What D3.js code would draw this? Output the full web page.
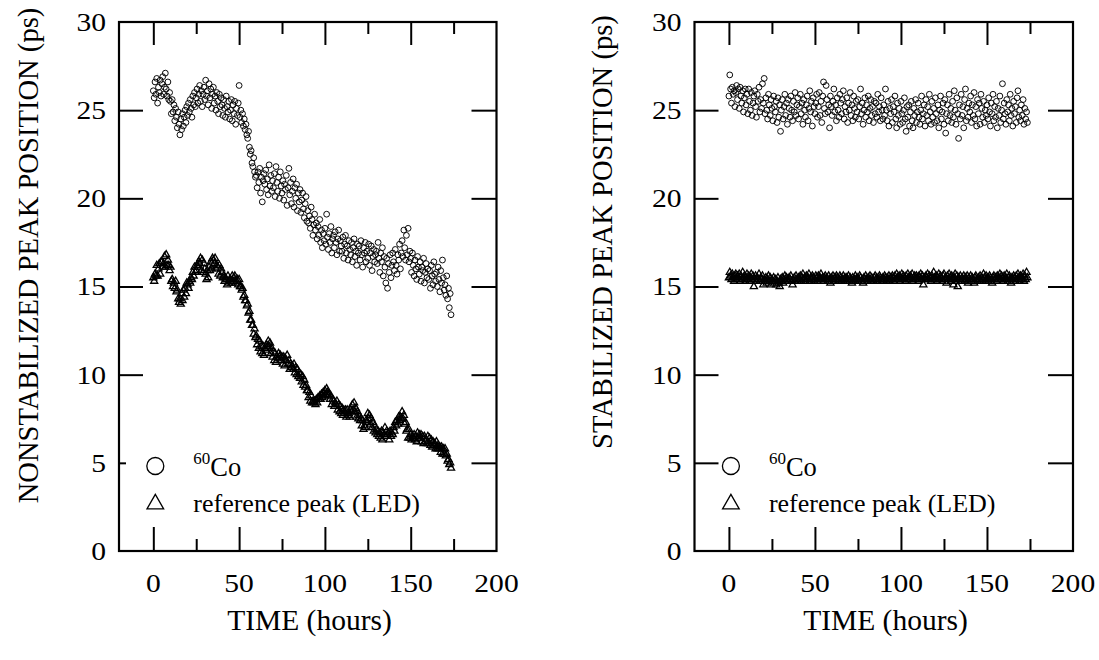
<!DOCTYPE html>
<html><head><meta charset="utf-8">
<script src="https://cdn.jsdelivr.net/npm/d3@7"></script>
<style>
body{margin:0;background:#fff;}
svg{display:block;}
text{font-family:"Liberation Serif","Times New Roman",serif;fill:#000;}
</style>
</head><body>
<svg id="chart" width="1099" height="660"></svg>
<script>
// measurement interval (hours)
const timeStep = 0.5;

// NONSTABILIZED – 60Co peak (ps)
const co60Nonstab = [
26.1,25.7,26.6,25.9,26.8,25.4,26.3,26.0,26.7,25.8,
26.5,26.9,25.9,26.3,27.1,26.2,25.8,26.6,25.6,26.0,
25.5,24.8,25.6,24.9,25.3,24.4,25.1,24.6,24.0,24.9,
24.2,23.6,24.5,23.9,24.8,24.1,24.6,25.0,24.3,25.2,
24.7,25.4,24.9,25.6,25.1,24.6,25.8,25.3,26.0,25.2,
25.7,26.2,25.4,25.9,26.4,25.5,26.1,25.2,25.9,26.3,
25.6,26.7,25.8,26.1,25.3,26.5,25.7,26.2,25.1,25.9,
26.3,25.4,25.8,25.0,26.0,25.5,24.8,25.9,25.2,25.7,
25.3,24.7,25.6,25.1,24.6,25.8,25.2,24.9,25.5,24.5,
25.0,25.6,24.4,25.3,24.8,25.5,24.2,25.1,24.7,25.4,
26.4,24.6,25.0,24.3,24.8,24.1,24.5,23.9,24.2,23.6,
23.4,23.8,22.9,22.5,22.7,22.0,21.8,22.3,21.5,21.2,
21.3,20.6,21.5,20.9,21.7,20.3,21.2,19.8,21.0,21.4,
20.8,21.6,20.5,21.1,20.2,21.9,20.7,21.3,20.4,21.0,
20.6,21.4,20.1,21.8,20.9,20.4,21.2,20.0,21.5,20.7,
20.3,21.0,19.9,20.8,20.5,21.3,19.6,20.6,21.7,20.2,
20.9,19.7,20.4,21.1,19.5,20.6,20.0,20.8,19.3,20.3,
19.8,20.5,19.2,19.9,20.3,19.4,18.9,19.7,20.1,18.7,
19.3,18.6,19.0,18.3,19.5,18.8,17.9,18.5,19.1,18.2,
18.6,17.7,18.4,17.9,18.8,17.5,18.2,17.2,18.0,17.6,
18.3,17.4,19.1,17.8,17.1,18.0,17.5,18.4,16.9,17.7,
17.9,17.2,18.1,17.5,16.8,17.7,18.2,17.0,17.6,17.3,
17.0,17.8,16.6,17.4,17.9,16.9,17.3,16.5,17.6,17.1,
16.8,17.5,16.4,17.2,17.7,16.7,17.0,16.2,17.4,16.9,
17.3,16.5,17.6,16.8,16.1,17.2,16.9,17.5,16.4,17.0,
16.6,17.4,16.2,16.9,17.3,15.9,16.7,17.1,16.4,16.8,
17.0,16.3,17.5,16.6,15.8,16.9,16.4,17.2,15.6,16.7,
16.1,15.2,16.6,14.9,16.3,15.8,16.8,15.5,16.2,16.9,
16.4,15.9,17.1,16.2,15.7,16.8,16.5,17.4,16.0,16.9,
17.6,16.7,18.2,17.2,16.5,17.9,16.8,18.3,16.4,17.0,
16.6,15.8,16.9,16.2,15.6,16.5,16.0,15.4,16.7,16.1,
15.7,16.4,15.3,16.1,15.9,16.6,15.2,15.8,16.3,15.5,
16.0,15.4,15.9,14.9,16.2,15.6,15.1,16.4,15.7,15.3,
15.8,15.0,16.1,15.4,14.7,15.9,15.2,16.5,15.5,14.8,
15.1,14.5,15.6,14.3,14.9,13.8,14.6,13.4
];

// NONSTABILIZED – reference peak (LED) (ps)
const ledNonstab = [
15.5,15.3,15.7,15.6,16.2,15.6,16.0,16.3,15.7,16.4,
16.4,16.1,16.3,16.7,16.1,16.8,16.2,16.5,16.2,15.9,
16.1,15.3,15.4,15.0,15.2,14.9,15.3,14.7,14.8,14.3,
14.1,14.3,14.0,14.6,14.2,14.8,14.4,14.9,14.6,15.2,
15.1,14.9,15.3,15.2,15.5,15.4,15.8,15.6,16.1,15.8,
15.9,16.2,16.1,16.4,16.3,16.6,15.9,16.5,15.8,16.3,
16.0,15.7,15.4,15.9,15.5,16.1,15.9,16.4,16.0,16.6,
16.5,16.3,16.6,16.0,16.2,16.1,15.7,16.2,15.6,16.0,
15.8,15.5,15.6,15.3,15.5,15.4,15.1,15.6,15.2,15.4,
15.4,15.2,15.6,15.3,15.5,15.6,15.2,15.3,15.4,15.1,
15.4,15.0,15.0,14.8,14.9,14.4,14.5,14.2,14.2,13.9,
14.0,13.5,13.6,13.1,13.1,12.8,12.8,12.3,12.6,12.1,
12.2,11.7,12.0,11.5,11.9,11.3,11.6,11.2,11.6,11.1,
11.5,11.4,11.7,11.6,11.9,11.6,11.8,11.2,11.5,11.0,
11.3,10.8,11.2,10.7,11.0,10.9,11.2,11.0,11.1,10.8,
11.0,10.6,11.0,10.5,10.9,10.8,11.1,10.6,10.8,10.3,
10.6,10.4,10.5,10.3,10.6,10.1,10.4,10.0,10.3,9.9,
10.1,9.8,10.0,9.6,9.9,9.4,9.7,9.3,9.4,9.1,
9.1,8.7,9.0,8.5,8.8,8.4,8.5,8.4,8.5,8.3,
8.6,8.4,8.7,8.6,8.8,8.6,8.9,8.7,9.0,8.8,
9.1,8.9,9.2,9.0,8.8,8.9,8.6,8.8,8.3,8.6,
8.5,8.2,8.4,8.3,8.5,8.0,8.3,7.9,8.2,7.8,
8.1,7.7,8.0,7.9,8.0,7.6,8.0,7.7,7.8,7.6,
8.0,7.9,8.3,8.0,8.4,7.9,8.1,7.6,7.9,7.5,
7.7,7.4,7.5,7.1,7.4,6.9,7.1,7.0,7.4,7.3,
7.8,7.5,7.7,7.2,7.5,7.0,7.3,6.8,7.1,6.7,
6.9,6.6,6.8,6.5,6.7,6.4,6.8,6.3,6.7,6.6,
7.0,6.5,6.8,6.6,6.7,6.3,6.8,6.5,6.7,6.6,
7.0,6.8,7.3,7.1,7.4,7.2,7.6,7.4,7.6,7.5,
7.9,7.5,7.7,7.2,7.3,6.8,6.9,6.4,6.9,6.4,
6.6,6.3,6.5,6.4,6.6,6.3,6.5,6.2,6.7,6.4,
6.6,6.4,6.6,6.2,6.5,6.1,6.5,6.2,6.3,6.1,
6.5,6.1,6.4,6.0,6.3,5.9,6.2,6.0,6.1,5.8,
6.2,5.8,6.0,5.8,5.9,5.6,5.9,5.5,5.8,5.5,
5.8,5.4,5.5,5.1,5.2,4.9,5.0,4.7
];

// STABILIZED – 60Co peak (ps)
const co60Stab = [
25.8,27.0,26.2,25.4,26.3,25.9,26.1,25.2,26.0,26.4,
25.6,26.2,25.1,26.3,25.8,25.4,26.1,24.9,25.7,26.2,
25.3,25.9,24.8,26.2,25.5,25.0,26.0,24.7,25.4,25.8,
26.1,25.2,24.6,25.9,25.5,26.3,24.9,25.6,25.1,26.5,
25.4,26.8,24.8,25.7,25.0,24.5,25.9,25.3,24.7,25.6,
25.1,24.4,25.8,25.2,24.9,25.5,24.3,25.7,24.6,25.3,
23.8,25.0,25.6,24.5,25.2,25.9,24.7,25.4,24.2,25.6,
25.1,24.6,25.8,25.0,24.4,25.5,24.9,26.0,24.7,25.3,
25.7,24.5,25.2,25.9,24.8,25.4,24.2,25.6,25.0,24.6,
25.3,25.8,24.4,25.1,26.1,24.9,25.5,24.1,25.7,25.2,
24.8,25.4,25.9,24.6,25.2,26.0,24.7,25.5,24.3,25.8,
26.6,25.1,24.8,26.4,25.6,24.9,25.3,24.0,25.8,25.2,
24.7,25.5,26.2,24.9,25.3,24.4,25.7,25.0,24.6,25.9,
25.4,24.8,25.6,26.1,24.5,25.2,24.9,25.7,24.3,25.4,
25.0,26.0,24.7,25.3,24.4,25.8,25.1,24.6,25.5,24.9,
25.6,24.5,25.2,26.2,24.8,25.4,24.2,25.0,25.7,24.6,
25.3,24.9,25.8,24.4,25.1,25.6,24.7,25.2,24.3,25.5,
24.8,25.4,24.6,25.9,24.9,25.2,24.4,25.7,25.0,24.5,
25.3,24.7,26.2,25.0,24.4,25.5,24.1,25.1,24.8,25.6,
24.3,25.2,24.9,25.8,24.5,24.0,25.4,24.7,25.1,24.2,
25.5,24.8,24.3,25.0,25.7,24.5,23.8,25.2,24.6,25.3,
24.1,24.9,25.5,24.4,24.0,25.1,24.7,25.6,24.3,24.9,
25.4,24.6,24.2,25.0,25.8,24.5,24.8,25.3,24.1,25.6,
24.7,25.2,24.4,25.9,24.9,24.2,25.5,24.6,25.1,24.3,
25.7,24.8,24.4,25.3,24.0,25.0,25.8,24.5,24.9,25.4,
24.2,25.6,23.7,24.8,25.3,24.4,25.9,24.7,25.1,24.3,
25.5,24.6,26.1,25.0,24.2,25.7,24.8,23.4,25.3,24.5,
25.9,24.7,25.2,24.0,25.6,26.2,24.4,25.1,24.6,25.4,
24.9,25.8,24.3,25.3,24.7,26.0,24.5,25.2,24.1,25.6,
24.8,25.4,24.2,25.9,25.1,24.6,25.5,24.3,25.0,24.7,
25.3,24.5,25.7,24.9,24.1,25.4,24.8,25.9,24.4,25.2,
24.6,25.5,24.0,25.1,24.7,25.8,24.3,25.0,26.5,24.5,
25.4,24.8,24.2,25.6,24.9,25.3,24.4,25.9,24.7,25.1,
24.1,25.5,24.8,25.2,24.3,25.7,26.1,24.6,25.0,24.4,
25.3,24.7,25.6,24.2,25.1,24.5,24.9,24.3
];

// STABILIZED – reference peak (LED) (ps)
const ledStab = [
15.5,15.8,15.6,15.4,15.7,15.5,15.3,15.6,15.7,15.4,
15.6,15.5,15.7,15.3,15.6,15.4,15.8,15.5,15.6,15.3,
15.5,15.7,15.4,15.6,15.3,15.5,15.7,15.4,15.6,15.0,
15.4,15.6,15.3,15.5,15.4,15.7,15.3,15.5,15.4,15.6,
15.1,15.4,15.3,15.5,15.2,15.4,15.6,15.3,15.5,15.1,
15.4,15.3,15.5,15.2,15.4,15.1,15.3,15.5,15.2,15.0,
15.4,15.3,15.5,15.2,15.4,15.6,15.3,15.5,15.4,15.3,
15.5,15.4,15.6,15.3,15.1,15.4,15.5,15.3,15.6,15.4,
15.3,15.5,15.4,15.6,15.3,15.5,15.7,15.4,15.5,15.3,
15.6,15.4,15.5,15.7,15.3,15.5,15.4,15.6,15.5,15.3,
15.4,15.6,15.5,15.3,15.6,15.4,15.5,15.7,15.4,15.5,
15.3,15.5,15.6,15.4,15.5,15.3,15.6,15.4,15.2,15.5,
15.4,15.6,15.3,15.5,15.4,15.6,15.5,15.3,15.4,15.6,
15.5,15.3,15.4,15.6,15.4,15.5,15.3,15.5,15.4,15.6,
15.3,15.5,15.4,15.2,15.5,15.3,15.4,15.6,15.4,15.5,
15.3,15.4,15.6,15.5,15.3,15.4,15.2,15.5,15.4,15.6,
15.4,15.3,15.5,15.4,15.6,15.3,15.5,15.4,15.3,15.5,
15.6,15.4,15.5,15.3,15.4,15.6,15.5,15.4,15.3,15.5,
15.4,15.6,15.5,15.3,15.5,15.4,15.6,15.3,15.5,15.4,
15.6,15.5,15.3,15.6,15.4,15.7,15.5,15.4,15.6,15.3,
15.5,15.7,15.4,15.6,15.5,15.3,15.6,15.4,15.7,15.5,
15.4,15.6,15.5,15.7,15.3,15.5,15.6,15.4,15.6,15.5,
15.3,15.6,15.5,15.7,15.4,15.6,15.1,15.5,15.4,15.6,
15.5,15.7,15.4,15.6,15.5,15.3,15.6,15.4,15.8,15.5,
15.4,15.6,15.3,15.5,15.7,15.4,15.6,15.5,15.3,15.6,
15.7,15.4,15.5,15.2,15.6,15.4,15.7,15.5,15.3,15.6,
15.4,15.1,15.5,15.7,15.3,15.6,15.0,15.5,15.4,15.6,
15.3,15.5,15.4,15.6,15.3,15.5,15.4,15.6,15.2,15.5,
15.4,15.6,15.3,15.5,15.4,15.2,15.5,15.6,15.4,15.3,
15.5,15.4,15.6,15.3,15.5,15.4,15.7,15.5,15.3,15.6,
15.4,15.5,15.3,15.6,15.5,15.4,15.2,15.5,15.6,15.4,
15.5,15.3,15.6,15.4,15.5,15.7,15.4,15.6,15.5,15.3,
15.6,15.4,15.5,15.7,15.3,15.5,15.6,15.4,15.2,15.5,
15.4,15.6,15.5,15.3,15.6,15.4,15.7,15.5,15.3,15.6,
15.4,15.5,15.7,15.3,15.6,15.4,15.8,15.5
];

const xDomain = [-20, 200];
const yDomain = [0, 30];
const xMajorTicks = [0, 50, 100, 150];
const xMinorTicks = [25, 75, 125, 175];
const xTickLabels = [0, 50, 100, 150, 200];
const yTickLabels = [0, 5, 10, 15, 20, 25, 30];
const yInnerTicks = [5, 10, 15, 20, 25];
const xTitle = "TIME (hours)";
const legendLabels = ["Co", "reference peak (LED)"];
const legendSup = "60";

const panels = [
  {co: co60Nonstab, led: ledNonstab, title: "NONSTABILIZED PEAK POSITION (ps)",
   left: 119, right: 496.5, titleX: 28, titleY: 255.5, shortTickAt5: true},
  {co: co60Stab, led: ledStab, title: "STABILIZED PEAK POSITION (ps)",
   left: 694.5, right: 1073, titleX: 602, titleY: 232, shortTickAt5: false}
];

const plotTop = 22, plotBottom = 551;
const tickFont = 25.5, tickStretch = 1.16;
const svg = d3.select("#chart");

function styleAxis(sel){
  sel.select(".domain").remove();
  sel.selectAll(".tick line").attr("stroke","#000").attr("stroke-width",2);
}

panels.forEach(p => {
  const x = d3.scaleLinear().domain(xDomain).range([p.left, p.right]);
  const y = d3.scaleLinear().domain(yDomain).range([plotBottom, plotTop]);
  const g = svg.append("g");

  g.append("g").attr("transform",`translate(0,${plotBottom})`)
    .call(d3.axisBottom(x).tickValues(xMajorTicks).tickSizeInner(-24).tickSizeOuter(0).tickFormat(""))
    .call(styleAxis);
  g.append("g").attr("transform",`translate(0,${plotBottom})`)
    .call(d3.axisBottom(x).tickValues(xMinorTicks).tickSizeInner(-12).tickSizeOuter(0).tickFormat(""))
    .call(styleAxis);
  g.append("g").attr("transform",`translate(0,${plotTop})`)
    .call(d3.axisTop(x).tickValues(xMajorTicks).tickSizeInner(-23).tickSizeOuter(0).tickFormat(""))
    .call(styleAxis);
  g.append("g").attr("transform",`translate(0,${plotTop})`)
    .call(d3.axisTop(x).tickValues(xMinorTicks).tickSizeInner(-12).tickSizeOuter(0).tickFormat(""))
    .call(styleAxis);
  const leftTicks = p.shortTickAt5 ? yInnerTicks.filter(v => v !== 5) : yInnerTicks;
  g.append("g").attr("transform",`translate(${p.left},0)`)
    .call(d3.axisLeft(y).tickValues(leftTicks).tickSizeInner(-24).tickSizeOuter(0).tickFormat(""))
    .call(styleAxis);
  if (p.shortTickAt5) {
    g.append("g").attr("transform",`translate(${p.left},0)`)
      .call(d3.axisLeft(y).tickValues([5]).tickSizeInner(-7).tickSizeOuter(0).tickFormat(""))
      .call(styleAxis);
  }
  g.append("g").attr("transform",`translate(${p.right},0)`)
    .call(d3.axisRight(y).tickValues(yInnerTicks).tickSizeInner(-25).tickSizeOuter(0).tickFormat(""))
    .call(styleAxis);

  g.append("rect").attr("x",p.left).attr("y",plotTop)
    .attr("width",p.right-p.left).attr("height",plotBottom-plotTop)
    .attr("fill","none").attr("stroke","#000").attr("stroke-width",2.2);

  g.selectAll(".xl").data(xTickLabels).join("text")
    .attr("transform",d=>`translate(${x(d)},592) scale(${tickStretch},1)`)
    .attr("text-anchor","middle").attr("font-size",tickFont).text(d=>d);
  g.selectAll(".yl").data(yTickLabels).join("text")
    .attr("transform",d=>`translate(${p.left-13},${y(d)}) scale(${tickStretch},1)`)
    .attr("dy","0.35em").attr("text-anchor","end")
    .attr("font-size",tickFont).text(d=>d);

  g.append("text").attr("x",x(91)).attr("y",630).attr("text-anchor","middle")
    .attr("font-size",29.5).text(xTitle);
  g.append("text").attr("transform",`translate(${p.titleX},${p.titleY}) rotate(-90)`)
    .attr("text-anchor","middle").attr("dy","0.35em").attr("font-size",28.6).text(p.title);

  const tri = d3.symbol().type(d3.symbolTriangle).size(22);
  g.append("g").selectAll("path").data(p.led).join("path")
    .attr("d",tri)
    .attr("transform",(d,i)=>`translate(${x(i*timeStep)},${y(d)})`)
    .attr("fill","none").attr("stroke","#000").attr("stroke-width",1.3);
  g.append("g").selectAll("circle").data(p.co).join("circle")
    .attr("cx",(d,i)=>x(i*timeStep)).attr("cy",d=>y(d)).attr("r",2.9)
    .attr("fill","none").attr("stroke","#000").attr("stroke-width",0.95);

  const lx = x(0) + 2;
  g.append("circle").attr("cx",lx).attr("cy",466).attr("r",8.5)
    .attr("fill","none").attr("stroke","#000").attr("stroke-width",1.3);
  g.append("path").attr("d",d3.symbol().type(d3.symbolTriangle).size(120)())
    .attr("transform",`translate(${lx},${504})`)
    .attr("fill","none").attr("stroke","#000").attr("stroke-width",1.3);
  const t1 = g.append("text").attr("x",lx+38).attr("y",476).attr("font-size",26.5);
  t1.append("tspan").attr("font-size",17).attr("dy",-12).text(legendSup);
  t1.append("tspan").attr("dy",12).text(legendLabels[0]);
  g.append("text").attr("x",lx+38).attr("y",512).attr("font-size",26).text(legendLabels[1]);
});
</script>
</body></html>
